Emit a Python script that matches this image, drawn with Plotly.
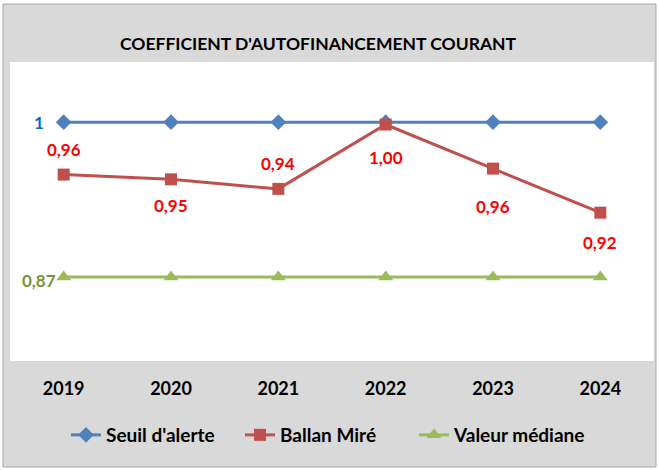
import plotly.graph_objects as go

years = ["2019", "2020", "2021", "2022", "2023", "2024"]
seuil = [1, 1, 1, 1, 1, 1]
ballan = [0.956, 0.952, 0.944, 0.998, 0.961, 0.924]
ballan_labels = ["0,96", "0,95", "0,94", "1,00", "0,96", "0,92"]
mediane = [0.87, 0.87, 0.87, 0.87, 0.87, 0.87]
label_shift = [25, -26, 25, -33, -38, -30]

W, H = 659, 470
FONT = "Lato"
BLUE, RED, GREEN = "#4f81bd", "#c0504d", "#9bbb59"

fig = go.Figure()
fig.add_trace(go.Scatter(x=years, y=seuil, name="Seuil d'alerte", mode="lines+markers",
                         line=dict(color=BLUE, width=3),
                         marker=dict(symbol="diamond", size=12, color=BLUE)))
fig.add_trace(go.Scatter(x=years, y=ballan, name="Ballan Miré", mode="lines+markers",
                         line=dict(color=RED, width=3),
                         marker=dict(symbol="square", size=12, color=RED)))
fig.add_trace(go.Scatter(x=years, y=mediane, name="Valeur médiane", mode="lines+markers",
                         line=dict(color=GREEN, width=3),
                         marker=dict(symbol="triangle-up", size=13, color=GREEN)))

ann = []
for i, (y, t, s) in enumerate(zip(ballan, ballan_labels, label_shift)):
    ann.append(dict(x=i, y=y, xref="x", yref="y", text=t, showarrow=False, yshift=s,
                    font=dict(family=FONT, size=17, color="#ff0000", weight="bold")))
ann.append(dict(x=0, y=seuil[0], xref="x", yref="y", text="1", showarrow=False, xshift=-25,
                font=dict(family=FONT, size=17, color="#0070c0", weight="bold")))
ann.append(dict(x=0, y=mediane[0], xref="x", yref="y", text="0,87", showarrow=False,
                xshift=-25, yshift=-3,
                font=dict(family=FONT, size=17, color="#77933c", weight="bold")))

L, R, T, B = 10, 654, 62, 361
pw, ph = R - L, B - T
def px(x):
    return (x - L) / pw
def py(y):
    return (B - y) / ph

ann.append(dict(xref="paper", yref="paper", x=px(318), y=py(31),
                text="COEFFICIENT D'AUTOFINANCEMENT COURANT", showarrow=False,
                font=dict(family=FONT, size=17.5, color="#000000", weight="bold")))

shapes = [
    dict(type="rect", xref="paper", yref="paper", x0=px(3), x1=px(656), y0=py(467), y1=py(4),
         fillcolor="#d9d9d9", line=dict(color="#a6a6a6", width=1), layer="below"),
    dict(type="rect", xref="paper", yref="paper", x0=0, x1=1, y0=0, y1=1,
         fillcolor="#ffffff", line=dict(width=0), layer="below"),
]

fig.update_layout(
    width=W, height=H,
    margin=dict(l=L, r=W - R, t=T, b=H - B),
    paper_bgcolor="#ffffff", plot_bgcolor="rgba(0,0,0,0)",
    showlegend=True,
    legend=dict(orientation="h", x=px(66), xanchor="left", y=py(435), yanchor="middle",
                entrywidth=129, entrywidthmode="pixels",
                font=dict(family=FONT, size=19, color="#000000", weight="bold"),
                bgcolor="rgba(0,0,0,0)"),
    annotations=ann, shapes=shapes,
    font=dict(family=FONT),
)
fig.update_xaxes(type="category", range=[-0.5, 5.5], showgrid=False, zeroline=False,
                 showline=False, ticks="outside", ticklen=11, tickcolor="rgba(0,0,0,0)",
                 tickfont=dict(family=FONT, size=18, color="#000000", weight="bold"))
fig.update_yaxes(range=[0.7995, 1.0505], visible=False, showgrid=False)

fig.write_html("out.html", config={"displayModeBar": False},
               post_script="document.body.style.margin='0';")
